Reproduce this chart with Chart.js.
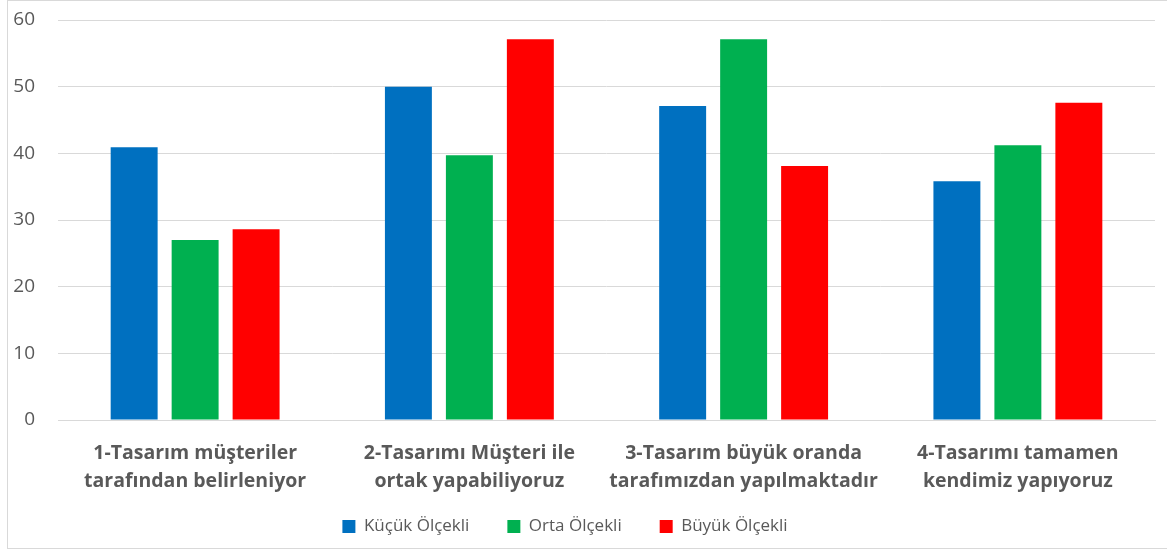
<!DOCTYPE html>
<html>
<head>
<meta charset="utf-8">
<script src="https://cdn.jsdelivr.net/npm/chart.js@4"></script>
<style>
	html, body { margin: 0; padding: 0; background: #fff; width: 1167px; height: 553px; overflow: hidden; }
	#box {
		position: absolute; left: 7px; top: 0;
		width: 1170px; height: 549px; box-sizing: border-box;
		border: 1px solid #d9d9d9;
	}
</style>
</head>
<body>
<div id="box"><canvas id="designChart"></canvas></div>
<script>
const categories = [
	['1-Tasarım müşteriler', 'tarafından belirleniyor'],
	['2-Tasarımı Müşteri ile', 'ortak yapabiliyoruz'],
	['3-Tasarım büyük oranda', 'tarafımızdan yapılmaktadır'],
	['4-Tasarımı tamamen', 'kendimiz yapıyoruz']
];
const seriesNames = ['Küçük Ölçekli', 'Orta Ölçekli', 'Büyük Ölçekli'];
const kucuk = [40.9, 50.0, 47.1, 35.8];
const orta = [27.0, 39.7, 57.1, 41.2];
const buyuk = [28.6, 57.1, 38.1, 47.6];
const yTicks = [0, 10, 20, 30, 40, 50, 60];

const colors = ['#0070c0', '#00b050', '#ff0000'];
const textColor = '#595959';
const font = '"Open Sans", Lato, sans-serif';

const ctx = document.getElementById('designChart').getContext('2d');

const designChart = new Chart(ctx, {
	type: 'bar',
	data: {
		labels: categories,
		datasets: [kucuk, orta, buyuk].map((vals, i) => ({
			label: seriesNames[i],
			data: vals,
			backgroundColor: colors[i],
			categoryPercentage: 0.667,
			barPercentage: 0.77
		}))
	},
	options: {
		responsive: true,
		maintainAspectRatio: false,
		animation: false,
		layout: {
			// negative left padding pulls the legend left, like the original
			padding: {top: 0, right: 21, left: -33, bottom: 3}
		},
		scales: {
			x: {
				afterFit: axis => {
					axis.height = 60;
					// labels run into the legend's top padding, so don't clip them
					axis._computeLabelArea = () => undefined;
				},
				grid: {display: false, drawTicks: false},
				border: {display: true, color: '#d9d9d9'},
				ticks: {
					color: textColor,
					font: {family: font, size: 19.5, weight: 'bold', lineHeight: 1.44},
					padding: 19,
					maxRotation: 0
				}
			},
			y: {
				min: 0,
				max: 60,
				afterBuildTicks: axis => {
					axis.ticks = yTicks.map(v => ({value: v}));
				},
				afterFit: axis => {
					axis.width = 83;
					axis.paddingTop = 19;
					axis.paddingBottom = 0;
				},
				grid: {color: '#d9d9d9', drawTicks: false},
				border: {display: false},
				ticks: {
					color: textColor,
					font: {family: font, size: 19},
					padding: 23
				}
			}
		},
		plugins: {
			legend: {
				position: 'bottom',
				labels: {
					color: textColor,
					font: {family: font, size: 17},
					boxWidth: 13,
					boxHeight: 13,
					padding: 38
				}
			},
			tooltip: {enabled: false}
		}
	}
});
</script>
</body>
</html>
